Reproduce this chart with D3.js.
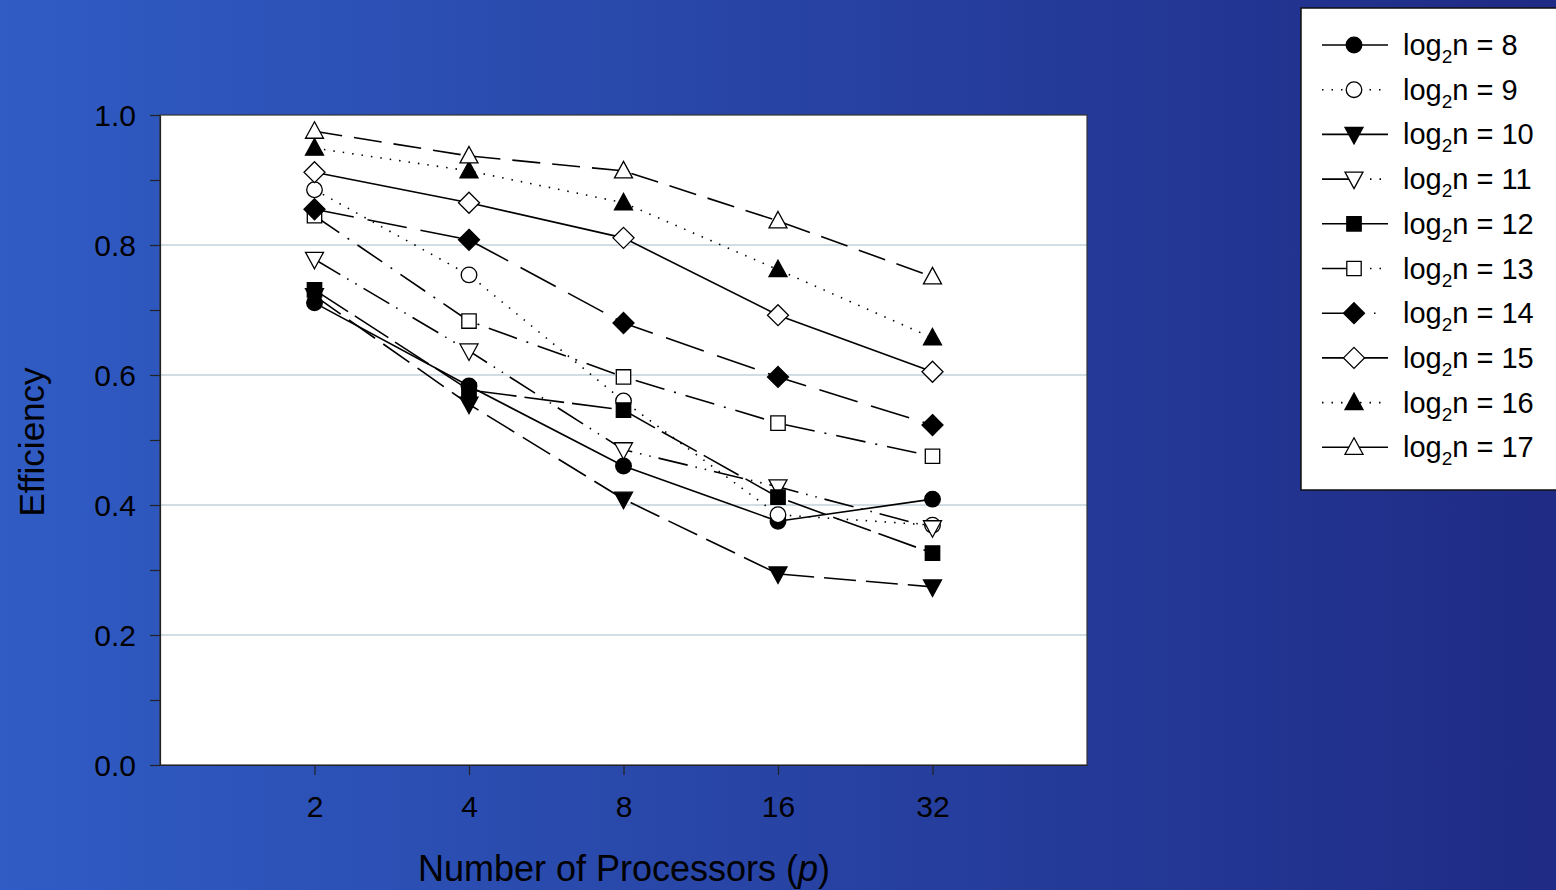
<!DOCTYPE html>
<html>
<head>
<meta charset="utf-8">
<script src="https://cdn.jsdelivr.net/npm/d3@7"></script>
<style>
  html, body { margin: 0; padding: 0; overflow: hidden; }
  svg { display: block; font-family: "Liberation Sans", Arial, sans-serif; }
</style>
</head>
<body>
<div id="chart"></div>
<script>
// data
const processors = [2, 4, 8, 16, 32];
const logN = [8, 9, 10, 11, 12, 13, 14, 15, 16, 17];
const eff8  = [0.711, 0.583, 0.460, 0.375, 0.409];
const eff9  = [0.885, 0.754, 0.560, 0.385, 0.369];
const eff10 = [0.722, 0.555, 0.409, 0.294, 0.274];
const eff11 = [0.778, 0.637, 0.485, 0.428, 0.365];
const eff12 = [0.731, 0.577, 0.546, 0.412, 0.326];
const eff13 = [0.845, 0.683, 0.597, 0.526, 0.475];
const eff14 = [0.855, 0.808, 0.680, 0.597, 0.523];
const eff15 = [0.912, 0.865, 0.811, 0.692, 0.605];
const eff16 = [0.949, 0.914, 0.865, 0.762, 0.657];
const eff17 = [0.975, 0.937, 0.914, 0.837, 0.751];
const yTicks = [0, 0.2, 0.4, 0.6, 0.8, 1.0];

const allEff = [eff8, eff9, eff10, eff11, eff12, eff13, eff14, eff15, eff16, eff17];
const markers = ['circle', 'circle', 'tridown', 'tridown', 'square', 'square', 'diamond', 'diamond', 'triup', 'triup'];
const filled = [true, false, true, false, true, false, true, false, true, false];
const dashes = [null, '1.5,8', '32,10', '30,8,1.5,8,1.5,8', '40,8', '30,10,2,10', '40,14', null, '1.5,8', '28,12'];
// the short legend samples only show part of each pattern
const legendDashes = [null, '1.5,8', null, '32,16,1.5,8,1.5,20', null, '32,16,1.5,8,1.5,20', '38,14,1.5,20', null, '1.5,8', null];

const series = logN.map((n, i) => ({
  n: n,
  marker: markers[i],
  filled: filled[i],
  dash: dashes[i],
  legendDash: legendDashes[i],
  values: processors.map((p, j) => ({ p: p, e: allEff[i][j] }))
}));

const width = 1556, height = 890;
const plot = { left: 160, top: 115, right: 1087, bottom: 765 };

const svg = d3.select('#chart').append('svg')
  .attr('width', width)
  .attr('height', height);

let grad = svg.append('defs').append('linearGradient')
  .attr('id', 'bg').attr('x1', '0').attr('x2', '1').attr('y1', '0').attr('y2', '0');
grad.append('stop').attr('offset', '0%').attr('stop-color', '#305cc4');
grad.append('stop').attr('offset', '100%').attr('stop-color', '#1f2b85');

svg.append('rect').attr('width', width).attr('height', height).attr('fill', 'url(#bg)');

const x = d3.scaleLog().base(2).domain([1, 64]).range([plot.left, plot.right]);
const y = d3.scaleLinear().domain([0, 1]).range([plot.bottom, plot.top]);

// plot background
svg.append('rect')
  .attr('x', plot.left).attr('y', plot.top)
  .attr('width', plot.right - plot.left).attr('height', plot.bottom - plot.top)
  .attr('fill', '#ffffff');

// gridlines
svg.append('g').selectAll('line')
  .data(yTicks.filter(t => t > 0 && t < 1))
  .enter().append('line')
  .attr('x1', plot.left).attr('x2', plot.right)
  .attr('y1', d => y(d)).attr('y2', d => y(d))
  .attr('stroke', '#c3d0da').attr('stroke-width', 1.5);

svg.append('rect')
  .attr('x', plot.left).attr('y', plot.top)
  .attr('width', plot.right - plot.left).attr('height', plot.bottom - plot.top)
  .attr('fill', 'none').attr('stroke', '#333').attr('stroke-width', 1.2);

// y axis
let yAxis = svg.append('g')
  .attr('transform', `translate(${plot.left},0)`)
  .call(d3.axisLeft(y).tickValues(d3.range(0, 1.01, 0.1)).tickSize(10).tickSizeOuter(0).tickPadding(14)
    .tickFormat(d => (Math.round(d * 10) % 2 === 0) ? d3.format('.1f')(d) : ''));
yAxis.select('.domain').attr('stroke', '#222').attr('stroke-width', 1.2);
yAxis.selectAll('.tick line').attr('stroke', '#222').attr('stroke-width', 1.2);
yAxis.selectAll('.tick text').attr('fill', '#000').style('font-size', '30px').attr('dy', '0.35em');

// x axis
let xAxis = svg.append('g')
  .attr('transform', `translate(0,${plot.bottom})`)
  .call(d3.axisBottom(x).tickValues(processors).tickSize(10).tickSizeOuter(0).tickPadding(21).tickFormat(d3.format('d')));
xAxis.select('.domain').attr('stroke', '#222').attr('stroke-width', 1.2);
xAxis.selectAll('.tick line').attr('stroke', '#222').attr('stroke-width', 1.2);
xAxis.selectAll('.tick text').attr('fill', '#000').style('font-size', '30px');

// axis titles
svg.append('text')
  .attr('transform', 'translate(44,442) rotate(-90)')
  .attr('text-anchor', 'middle')
  .style('font-size', '35px')
  .text('Efficiency');

let xt = svg.append('text')
  .attr('x', 624).attr('y', 881)
  .attr('text-anchor', 'middle')
  .style('font-size', '36px');
xt.append('tspan').text('Number of Processors (');
xt.append('tspan').style('font-style', 'italic').text('p');
xt.append('tspan').text(')');

// marker shapes
let markerPath = (kind) => {
  if (kind === 'circle') return d3.symbol().type(d3.symbolCircle).size(Math.PI * 7.8 * 7.8)();
  if (kind === 'square') return 'M-7.2,-7.2H7.2V7.2H-7.2Z';
  if (kind === 'diamond') return 'M0,-10.5L10.5,0L0,10.5L-10.5,0Z';
  if (kind === 'triup') return 'M0,-9.5L9,7H-9Z';
  return 'M0,9.5L9,-7H-9Z';
};

let line = d3.line().x(d => x(d.p)).y(d => y(d.e));

let sg = svg.append('g').selectAll('g')
  .data(series)
  .enter().append('g');

sg.append('path')
  .attr('d', d => line(d.values))
  .attr('fill', 'none')
  .attr('stroke', '#000')
  .attr('stroke-width', 1.6)
  .attr('stroke-dasharray', d => d.dash);

sg.each(function (s) {
  d3.select(this).selectAll('path.mk')
    .data(s.values)
    .enter().append('path')
    .attr('class', 'mk')
    .attr('transform', d => `translate(${x(d.p)},${y(d.e)})`)
    .attr('d', markerPath(s.marker))
    .attr('fill', s.filled ? '#000' : '#fff')
    .attr('stroke', '#000')
    .attr('stroke-width', 1.3);
});

// legend
let legend = svg.append('g');
legend.append('rect')
  .attr('x', 1301).attr('y', 8)
  .attr('width', 270).attr('height', 482)
  .attr('fill', '#fff').attr('stroke', '#111').attr('stroke-width', 1.5);

let items = legend.selectAll('g.item')
  .data(series)
  .enter().append('g')
  .attr('class', 'item')
  .attr('transform', (d, i) => `translate(0,${45 + i * 44.7})`);

items.append('line')
  .attr('x1', 1322).attr('x2', 1388)
  .attr('stroke', '#000').attr('stroke-width', 1.6)
  .attr('stroke-dasharray', d => d.legendDash);

items.append('path')
  .attr('transform', 'translate(1354,0)')
  .attr('d', d => markerPath(d.marker))
  .attr('fill', d => d.filled ? '#000' : '#fff')
  .attr('stroke', '#000').attr('stroke-width', 1.3);

let lt = items.append('text')
  .attr('x', 1403).attr('y', 10)
  .style('font-size', '29px');
lt.append('tspan').text('log');
lt.append('tspan').attr('dy', 8).style('font-size', '19px').text('2');
lt.append('tspan').attr('dy', -8).text(d => 'n = ' + d.n);
</script>
</body>
</html>
